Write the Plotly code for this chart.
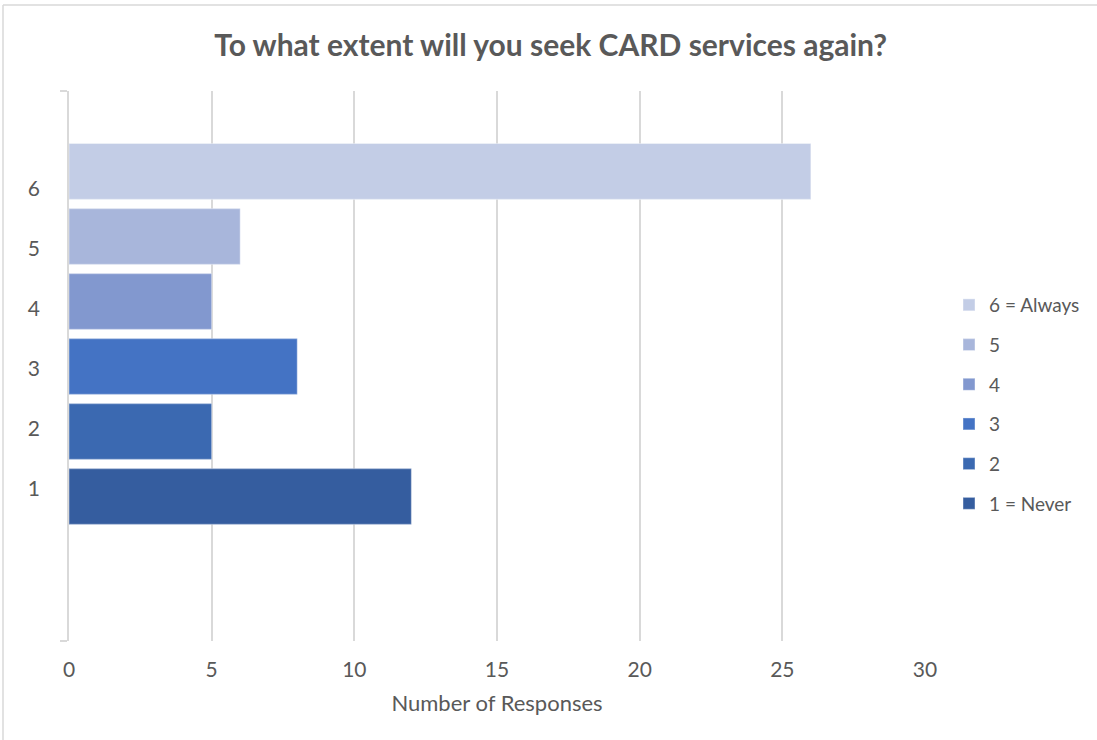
import plotly.graph_objects as go

# Survey results: "To what extent will you seek CARD services again?"
levels = [1, 2, 3, 4, 5, 6]
level_names = ["1 = Never", "2", "3", "4", "5", "6 = Always"]
responses = [12, 5, 8, 5, 6, 26]
bar_colors = ["#355d9f", "#3b69b1", "#4473c4", "#8298cf", "#a8b6db", "#c3cde6"]
x_ticks = [0, 5, 10, 15, 20, 25, 30]

TEXT = "#595959"
GRID = "#d9d9d9"
FONT = "Lato"

W, H = 1097, 740
ML, MR, MT, MB = 69, 172, 91, 99
PW, PH = W - ML - MR, H - MT - MB

bar_range = [-1.223, 7.238]
label_range = [-1.533, 7.633]

fig = go.Figure()

# one trace per answer level, highest first so the legend lists 6 on top
series = list(zip(levels, level_names, responses, bar_colors))[::-1]
for lvl, name, val, col in series:
    fig.add_trace(go.Bar(
        x=[val], y=[lvl], name=name, orientation="h", width=0.86,
        marker=dict(color=col, line=dict(color="rgba(255,255,255,0.35)", width=1.2)),
        legendgroup=name,
        hovertemplate="%{y}: %{x}<extra></extra>",
    ))

# invisible carrier trace for the category labels on the left
fig.add_trace(go.Scatter(
    x=[None] * len(levels), y=levels, yaxis="y2", mode="markers",
    marker=dict(opacity=0), showlegend=False, hoverinfo="skip",
))

# outer chart border (top and left edges visible)
bx = (3 - ML) / PW
by = (H - MB - 5) / PH
fig.add_shape(type="line", xref="paper", yref="paper",
              x0=bx, x1=(W + 10 - ML) / PW, y0=by, y1=by,
              line=dict(color=GRID, width=1.5))
fig.add_shape(type="line", xref="paper", yref="paper",
              x0=bx, x1=bx, y0=by, y1=-(MB + 10) / PH,
              line=dict(color=GRID, width=1.5))

fig.update_layout(
    width=W, height=H,
    margin=dict(l=ML, r=MR, t=MT, b=MB, autoexpand=False),
    paper_bgcolor="white", plot_bgcolor="white",
    font=dict(family=FONT, color=TEXT, size=21),
    title=dict(text="<b>To what extent will you seek CARD services again?</b>",
               x=0.502, xanchor="center", y=1 - 45 / H, yanchor="middle",
               font=dict(family=FONT, size=30, color=TEXT)),
    xaxis=dict(range=[0, 30], tickvals=x_ticks, showgrid=True, gridcolor=GRID,
               gridwidth=1.5, zeroline=False, showline=False,
               ticks="outside", ticklen=10, tickcolor="rgba(0,0,0,0)",
               tickfont=dict(size=21, color=TEXT),
               title=dict(text="Number of Responses", standoff=15,
                          font=dict(size=22, color=TEXT))),
    yaxis=dict(range=bar_range, showgrid=False, zeroline=False,
               showline=True, linecolor=GRID, linewidth=1.5,
               tickvals=[bar_range[0] + 0.003, bar_range[1] - 0.003],
               ticks="outside", ticklen=7, tickcolor=GRID, tickwidth=1.5,
               showticklabels=False),
    yaxis2=dict(range=label_range, overlaying="y", side="left",
                tickvals=levels, ticktext=[str(v) for v in levels],
                showgrid=False, zeroline=False, showline=False, ticks="",
                ticklabelstandoff=28, tickfont=dict(size=21, color=TEXT)),
    legend=dict(x=(949 - ML) / PW, xanchor="left",
                y=(H - MB - 404.5) / PH, yanchor="middle",
                traceorder="grouped", tracegroupgap=12,
                font=dict(size=19, color=TEXT), bgcolor="rgba(0,0,0,0)"),
    barmode="overlay",
    showlegend=True,
)

fig.write_html("out.html")
